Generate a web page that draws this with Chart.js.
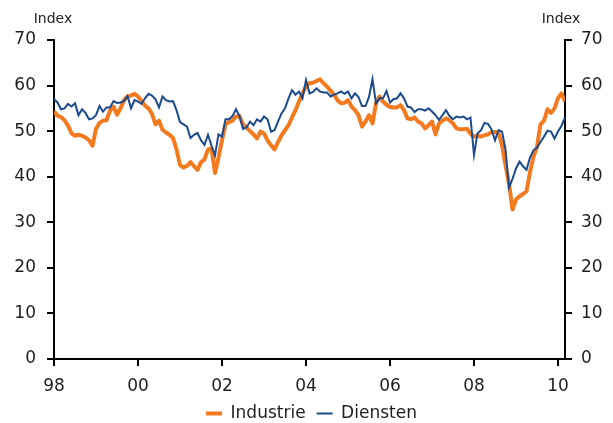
<!DOCTYPE html>
<html>
<head>
<meta charset="utf-8">
<script src="https://cdn.jsdelivr.net/npm/chart.js@4.4.1/dist/chart.umd.min.js"></script>
<style>
  html, body { margin: 0; padding: 0; background: #ffffff; }
  #wrap { width: 613px; height: 423px; }
</style>
</head>
<body>
<div id="wrap"><canvas id="chart" width="613" height="423"></canvas></div>
<script>
// Monthly purchasing-manager style indices, January 1998 to March 2010
const startYear = 1998;
const monthCount = 147;
const months = [];
for (let i = 0; i < monthCount; i++) {
  const y = startYear + Math.floor(i / 12);
  const m = (i % 12) + 1;
  months.push(y + '-' + String(m).padStart(2, '0'));
}

const industrie = [
  54.3, 53.4, 53.1, 52.4, 51.2, 49.5, 49.0, 49.2, 49.0, 48.6, 48.0, 46.8, // 1998
  50.5, 51.8, 52.3, 52.4, 54.5, 55.4, 53.6, 55.0, 56.8, 57.6, 57.8, 58.2, // 1999
  57.6, 56.6, 55.6, 55.0, 53.8, 51.5, 52.3, 50.3, 49.7, 49.2, 48.5, 46.0, // 2000
  42.6, 42.0, 42.4, 43.2, 42.3, 41.5, 43.2, 43.8, 46.0, 46.2, 40.8, 44.2, // 2001
  48.0, 51.5, 52.0, 52.3, 53.2, 53.3, 51.5, 50.8, 50.0, 49.3, 48.4, 49.9, // 2002
  49.5, 48.0, 46.9, 46.0, 47.6, 49.1, 50.2, 51.3, 53.0, 54.6, 56.5, 58.3, // 2003
  59.8, 60.5, 60.6, 61.0, 61.4, 60.5, 59.8, 58.9, 58.0, 56.8, 56.1, 56.2, // 2004
  56.8, 55.4, 54.6, 53.5, 51.0, 52.1, 53.5, 51.7, 56.1, 57.6, 56.5, 55.8, // 2005
  55.3, 55.2, 55.2, 55.7, 54.6, 52.8, 52.6, 53.0, 52.1, 51.7, 50.6, 51.3, // 2006
  52.1, 49.3, 51.7, 52.3, 52.8, 52.4, 51.7, 50.6, 50.4, 50.4, 50.5, 49.4, // 2007
  48.8, 49.0, 48.8, 49.1, 49.3, 49.8, 49.8, 49.6, 47.0, 42.5, 38.5, 32.8, // 2008
  35.0, 35.7, 36.2, 36.8, 41.0, 44.4, 46.5, 51.5, 52.3, 54.8, 54.0, 55.0, // 2009
  57.2, 58.3, 56.5                                                        // 2010
];

const diensten = [
  57.0, 56.3, 54.8, 55.0, 56.0, 55.4, 56.1, 53.5, 54.8, 54.0, 52.6, 52.8, // 1998
  53.5, 55.5, 54.3, 55.2, 55.2, 56.6, 56.2, 56.3, 56.6, 57.7, 55.0, 56.8, // 1999
  56.5, 56.0, 57.2, 58.2, 57.8, 57.0, 55.2, 57.6, 56.8, 56.5, 56.6, 54.6, // 2000
  52.0, 51.5, 51.0, 48.5, 49.2, 49.6, 48.0, 47.0, 49.2, 46.8, 44.7, 49.3, // 2001
  48.8, 52.6, 52.6, 53.3, 54.8, 53.3, 50.5, 50.8, 52.1, 51.3, 52.6, 52.1, // 2002
  53.2, 52.6, 49.9, 50.2, 52.1, 53.9, 55.0, 57.2, 59.0, 58.0, 58.7, 57.2, // 2003
  61.2, 58.3, 58.6, 59.4, 58.7, 58.5, 58.5, 57.6, 58.0, 58.3, 58.7, 58.2, // 2004
  58.7, 57.2, 58.3, 57.5, 55.5, 55.5, 57.5, 61.4, 56.1, 57.2, 57.2, 58.8, // 2005
  56.3, 57.0, 57.2, 58.3, 57.2, 55.4, 55.2, 54.2, 54.8, 54.8, 54.5, 55.0, // 2006
  54.3, 53.5, 52.5, 53.5, 54.6, 53.3, 52.6, 53.2, 53.0, 53.2, 52.6, 53.0, // 2007
  44.8, 49.5, 50.2, 51.8, 51.6, 50.4, 48.0, 50.2, 49.9, 46.0, 37.6, 39.5, // 2008
  41.8, 43.3, 42.3, 41.5, 44.2, 45.8, 46.4, 47.6, 48.8, 50.1, 49.9, 48.4, // 2009
  49.9, 51.2, 53.0                                                        // 2010
];

// Year ticks on the time axis
const tickMonths = ['1998-01', '2000-01', '2002-01', '2004-01', '2006-01', '2008-01', '2010-01'];
const tickLabels = ['98', '00', '02', '04', '06', '08', '10'];
const valueTicks = [0, 10, 20, 30, 40, 50, 60, 70];
const unitLabel = 'Index';

const tickPositions = tickMonths.map(m => months.indexOf(m));

const ORANGE = '#f47a20';
const BLUE = '#1b4a8e';
const INK = '#1e1e1e';
const FONT = "'DejaVu Sans', Verdana, sans-serif";

const axisGrid = { drawOnChartArea: false, drawTicks: true, tickLength: 7, color: '#000', lineWidth: 2 };
const axisBorder = { display: true, color: '#000', width: 2 };

const unitTitles = {
  id: 'unitTitles',
  afterDraw(chart) {
    const { ctx, chartArea } = chart;
    ctx.save();
    ctx.font = '14px ' + FONT;
    ctx.fillStyle = INK;
    ctx.textAlign = 'center';
    ctx.textBaseline = 'middle';
    ctx.fillText(unitLabel, chartArea.left - 1, 19);
    ctx.fillText(unitLabel, chartArea.right - 4, 19);
    ctx.restore();
  }
};

function valueAxis(position, width, pad) {
  return {
    position: position,
    min: 0,
    max: 70,
    afterBuildTicks: s => { s.ticks = valueTicks.map(v => ({ value: v })); },
    afterFit: s => { s.width = width; },
    ticks: { color: INK, font: { family: FONT, size: 17 }, padding: pad },
    grid: axisGrid,
    border: axisBorder
  };
}

new Chart(document.getElementById('chart'), {
  type: 'line',
  data: {
    datasets: [
      {
        label: 'Industrie',
        data: industrie.map((v, i) => ({ x: i, y: v })),
        borderColor: ORANGE,
        backgroundColor: ORANGE,
        borderWidth: 4,
        pointRadius: 0,
        tension: 0,
        borderJoinStyle: 'round',
        order: 2
      },
      {
        label: 'Diensten',
        data: diensten.map((v, i) => ({ x: i, y: v })),
        borderColor: BLUE,
        backgroundColor: BLUE,
        borderWidth: 2,
        pointRadius: 0,
        tension: 0,
        order: 1
      }
    ]
  },
  options: {
    responsive: false,
    animation: false,
    devicePixelRatio: 1,
    // the legend keeps some empty space below its labels, let it run past the bottom edge
    layout: { padding: { top: 40, left: 10, right: 0, bottom: -9 } },
    plugins: {
      legend: {
        position: 'bottom',
        labels: {
          usePointStyle: true,
          pointStyle: 'line',
          pointStyleWidth: 16,
          color: INK,
          font: { family: FONT, size: 17 },
          padding: 11,
          sort: (a, b) => a.datasetIndex - b.datasetIndex
        }
      },
      tooltip: { enabled: false }
    },
    scales: {
      x: {
        type: 'linear',
        min: 0,
        max: months.length - 1,
        afterBuildTicks: s => { s.ticks = tickPositions.map(v => ({ value: v })); },
        afterFit: s => { s.height = 35; },
        ticks: {
          callback: v => tickLabels[tickPositions.indexOf(v)],
          color: INK,
          font: { family: FONT, size: 17 },
          padding: 10,
          maxRotation: 0,
          autoSkip: false
        },
        grid: axisGrid,
        border: axisBorder
      },
      y: valueAxis('left', 44, 11),
      y2: valueAxis('right', 48, 9)
    }
  },
  plugins: [unitTitles]
});
</script>
</body>
</html>
